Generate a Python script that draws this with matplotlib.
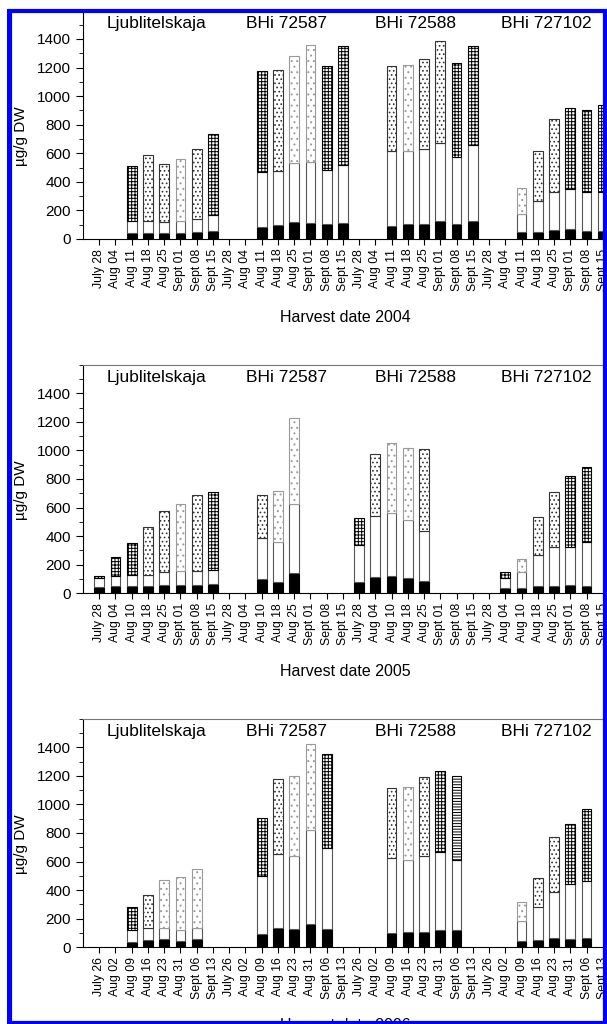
import numpy as np
import matplotlib
matplotlib.use("Agg")
import matplotlib.pyplot as plt
from matplotlib.patches import Rectangle
from matplotlib.ticker import MultipleLocator

plt.rcParams['font.family'] = ['Liberation Sans', 'DejaVu Sans']
plt.rcParams['hatch.linewidth'] = 0.7

cultivars = ['Ljublitelskaja', 'BHi 72587', 'BHi 72588', 'BHi 727102']

dates_2004 = ['July 28', 'Aug 04', 'Aug 11', 'Aug 18', 'Aug 25', 'Sept 01', 'Sept 08', 'Sept 15']
dates_2005 = ['July 28', 'Aug 04', 'Aug 10', 'Aug 18', 'Aug 25', 'Sept 01', 'Sept 08', 'Sept 15']
dates_2006 = ['July 26', 'Aug 02', 'Aug 09', 'Aug 16', 'Aug 23', 'Aug 31', 'Sept 06', 'Sept 13']

# black part, top of white part, total height (µg/g DW), 4 cultivars x 8 dates
black_2004 = [0, 0, 40, 40, 40, 40, 48, 58, 0, 0, 85, 100, 118, 115, 105, 112,
              0, 0, 88, 105, 105, 128, 105, 128, 0, 0, 49, 49, 60, 70, 54, 54]
white_2004 = [0, 0, 128, 128, 118, 125, 140, 165, 0, 0, 470, 478, 535, 540, 485, 515,
              0, 0, 617, 617, 631, 671, 571, 657, 0, 0, 175, 268, 328, 352, 328, 328]
total_2004 = [0, 0, 512, 585, 525, 560, 628, 737, 0, 0, 1175, 1185, 1282, 1355, 1211, 1353,
              0, 0, 1211, 1218, 1258, 1386, 1230, 1351, 0, 0, 356, 617, 841, 915, 901, 939]
pat_2004 = "--GDDLDG" "--GDLLGG" "--DLDDGG" "--LDDGGG"

black_2005 = [42, 51, 51, 51, 56, 60, 60, 65, 0, 0, 98, 77, 140, 0, 0, 0,
              81, 114, 119, 105, 88, 0, 0, 0, 0, 37, 37, 51, 51, 56, 51, 0]
white_2005 = [105, 123, 128, 128, 147, 153, 153, 160, 0, 0, 384, 358, 623, 0, 0, 0,
              335, 540, 563, 516, 435, 0, 0, 0, 0, 105, 147, 267, 321, 321, 358, 0]
total_2005 = [121, 256, 349, 467, 579, 626, 686, 709, 0, 0, 691, 719, 1226, 0, 0, 0,
              528, 977, 1053, 1019, 1007, 0, 0, 0, 0, 147, 237, 535, 709, 823, 881, 0]
pat_2005 = "GGGDDLDG" "--DLL---" "GDLLD---" "-GLDDGG-"

black_2006 = [0, 0, 40, 51, 56, 47, 56, 0, 0, 0, 93, 133, 128, 160, 126, 0,
              0, 0, 102, 107, 107, 121, 121, 0, 0, 0, 44, 53, 67, 58, 63, 0]
white_2006 = [0, 0, 121, 133, 137, 121, 137, 0, 0, 0, 498, 656, 642, 823, 695, 0,
              0, 0, 626, 614, 637, 667, 609, 0, 0, 0, 184, 279, 388, 442, 463, 0]
total_2006 = [0, 0, 279, 363, 474, 495, 551, 0, 0, 0, 907, 1181, 1200, 1423, 1353, 0,
              0, 0, 1114, 1123, 1193, 1233, 1200, 0, 0, 0, 314, 486, 770, 865, 967, 0]
pat_2006 = "--GDLLL-" "--GDLLG-" "--DLDGH-" "--LDDGG-"

panels = [
    (2004, dates_2004, black_2004, white_2004, total_2004, pat_2004),
    (2005, dates_2005, black_2005, white_2005, total_2005, pat_2005),
    (2006, dates_2006, black_2006, white_2006, total_2006, pat_2006),
]

# hatch style per pattern code
hatches = {'G': ('+++++', 'black'), 'D': ('....', '#333333'),
           'L': ('...', '#9a9a9a'), 'H': ('------', 'black')}

W, H = 607, 1024
fig = plt.figure(figsize=(W / 100, H / 100), dpi=100)

bottoms_px = [239, 593.3, 947.3]
ax_h = 228.6
left_px, right_px = 83, 619
wbar = 0.6

for (year, dates, black, white, total, pat), bpx in zip(panels, bottoms_px):
    ax = fig.add_axes([left_px / W, (H - bpx) / H, (right_px - left_px) / W, ax_h / H])
    x = np.arange(32)
    black = np.array(black, float)
    white = np.array(white, float)
    total = np.array(total, float)
    has = total > 0
    ax.bar(x[has], black[has], width=wbar, color='black', edgecolor='black', lw=0.8)
    ax.bar(x[has], (white - black)[has], bottom=black[has], width=wbar,
           color='white', edgecolor='#555555', lw=0.8)
    for code, (h, ec) in hatches.items():
        m = np.array([c == code for c in pat]) & has
        if m.any():
            ax.bar(x[m], (total - white)[m], bottom=white[m], width=wbar,
                   color='white', edgecolor=ec, hatch=h, lw=0.8)

    ax.set_xlim(-1, 32)
    ax.set_ylim(0, 1600)
    ax.set_xticks(x)
    ax.set_xticklabels(dates * 4, rotation=90, fontsize=8.8)
    ax.yaxis.set_major_locator(MultipleLocator(200))
    ax.yaxis.set_minor_locator(MultipleLocator(100))
    ax.set_yticks(np.arange(0, 1401, 200))
    ax.tick_params(axis='y', which='major', labelsize=11, length=5, direction='out')
    ax.tick_params(axis='y', which='minor', length=3, direction='out')
    ax.tick_params(axis='x', length=4, direction='out', pad=3)
    ax.spines['right'].set_visible(False)
    ax.spines['top'].set_color('#777777')
    for g, name in enumerate(cultivars):
        ax.text(8 * g + 3.5, 1510, name, ha='center', va='center', fontsize=12.5)
    ax.set_ylabel('µg/g DW', fontsize=11)
    ax.yaxis.set_label_coords(-0.102, 0.45)
    ax.set_xlabel('Harvest date %d' % year, fontsize=11.5)
    ax.xaxis.set_label_coords(0.49, -0.31)

# blue frame around the figure
frame = Rectangle((9.5 / W, 1 - 1023 / H), (605 - 9.5) / W, (1023 - 11) / H,
                  transform=fig.transFigure, fill=False, edgecolor='#0000ff',
                  lw=3, zorder=10)
fig.add_artist(frame)
fig.add_artist(Rectangle((7 / W, 0), 5 / W, 1 - 9 / H, transform=fig.transFigure,
                         color='#0000ff', lw=0, zorder=10))

fig.savefig('out.png', dpi=100)
